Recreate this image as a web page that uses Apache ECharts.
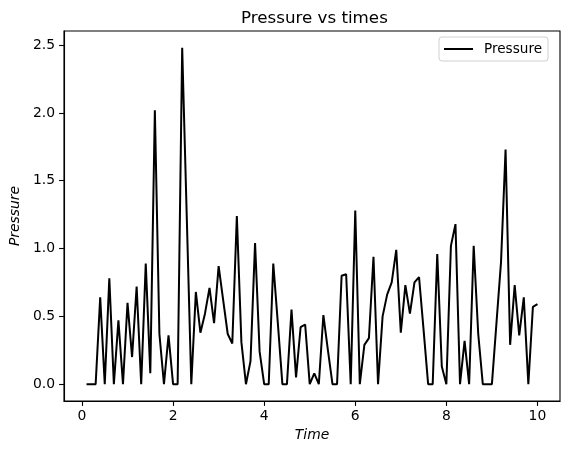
<!DOCTYPE html>
<html>
<head>
<meta charset="utf-8">
<script src="https://cdn.jsdelivr.net/npm/echarts@6/dist/echarts.min.js"></script>
<style>
html,body{margin:0;padding:0;background:#fff;}
#c{width:567px;height:454px;}
</style>
</head>
<body>
<div id="c"></div>
<script>
const times = [0.1,0.2,0.3,0.4,0.5,0.6,0.7,0.8,0.9,1.0,
  1.1,1.2,1.3,1.4,1.5,1.6,1.7,1.8,1.9,2.0,
  2.1,2.2,2.3,2.4,2.5,2.6,2.7,2.8,2.9,3.0,
  3.1,3.2,3.3,3.4,3.5,3.6,3.7,3.8,3.9,4.0,
  4.1,4.2,4.3,4.4,4.5,4.6,4.7,4.8,4.9,5.0,
  5.1,5.2,5.3,5.4,5.5,5.6,5.7,5.8,5.9,6.0,
  6.1,6.2,6.3,6.4,6.5,6.6,6.7,6.8,6.9,7.0,
  7.1,7.2,7.3,7.4,7.5,7.6,7.7,7.8,7.9,8.0,
  8.1,8.2,8.3,8.4,8.5,8.6,8.7,8.8,8.9,9.0,
  9.1,9.2,9.3,9.4,9.5,9.6,9.7,9.8,9.9,10.0];
const pressure = [0,0,0,0.64,0,0.78,0,0.47,0,0.60,
  0.20,0.72,0,0.89,0.08,2.02,0.37,0,0.36,0,
  0,2.48,1.24,0,0.68,0.38,0.52,0.71,0.45,0.87,
  0.62,0.37,0.30,1.24,0.31,0,0.17,1.04,0.24,0,
  0,0.89,0.45,0,0,0.55,0.05,0.42,0.44,0,
  0.08,0,0.51,0.25,0,0,0.80,0.81,0,1.28,
  0,0.29,0.34,0.94,0,0.50,0.66,0.75,0.99,0.38,
  0.73,0.52,0.75,0.79,0.40,0,0,0.96,0.13,0,
  1.02,1.18,0,0.32,0,1.02,0.37,0,0,0,
  0.45,0.90,1.73,0.29,0.73,0.36,0.64,0,0.57,0.59];
const xTicks = [0,2,4,6,8,10];
const yTicks = [0,0.5,1.0,1.5,2.0,2.5];

const FONT = 'DejaVu Sans';
const chart = echarts.init(document.getElementById('c'), null, {renderer:'canvas'});
chart.setOption({
  animation:false,
  backgroundColor:'#fff',
  title:{
    text:'Pressure vs times',
    left:236, top:5,
    textStyle:{fontFamily:FONT,fontSize:16.7,fontWeight:'normal',color:'#000'}
  },
  legend:{
    data:['Pressure'],
    left:439, top:37,
    padding:[5,6,5,5],
    backgroundColor:'#fff',
    borderColor:'#d0d0d0',
    borderWidth:1,
    borderRadius:3,
    icon:'rect',
    itemWidth:29,
    itemHeight:2,
    textStyle:{fontFamily:FONT,fontSize:13.6,color:'#000',padding:[0,0,0,6]}
  },
  grid:{
    left:61, right:7, top:31, bottom:53,
    show:true, borderColor:'#000', borderWidth:1.1, backgroundColor:'#fff'
  },
  xAxis:{
    type:'value',
    min:-0.395, max:10.495,
    name:'Time', nameLocation:'middle', nameGap:27,
    nameTextStyle:{fontFamily:FONT,fontSize:13.9,fontStyle:'italic',color:'#000'},
    axisLine:{show:true,onZero:false,lineStyle:{color:'#000',width:1.1}},
    axisTick:{show:true,inside:false,length:4.9,customValues:xTicks,lineStyle:{color:'#000',width:1.1}},
    axisLabel:{customValues:xTicks,margin:8,fontFamily:FONT,fontSize:13.9,color:'#000',
      formatter:v=>String(v)},
    splitLine:{show:false}
  },
  yAxis:{
    type:'value',
    min:-0.124, max:2.604,
    name:'Pressure', nameLocation:'middle', nameGap:38, nameRotate:90,
    nameTextStyle:{fontFamily:FONT,fontSize:13.9,fontStyle:'italic',color:'#000'},
    axisLine:{show:true,onZero:false,lineStyle:{color:'#000',width:1.1}},
    axisTick:{show:true,inside:false,length:4.9,customValues:yTicks,lineStyle:{color:'#000',width:1.1}},
    axisLabel:{customValues:yTicks,margin:9,fontFamily:FONT,fontSize:13.9,color:'#000',
      formatter:v=>v.toFixed(1)},
    splitLine:{show:false}
  },
  series:[{
    name:'Pressure',
    type:'line',
    data:times.map((t,i)=>[t,pressure[i]]),
    showSymbol:false,
    symbol:'none',
    color:'#000',
    lineStyle:{color:'#000',width:2},
    itemStyle:{color:'#000'}
  }]
});
</script>
</body>
</html>
